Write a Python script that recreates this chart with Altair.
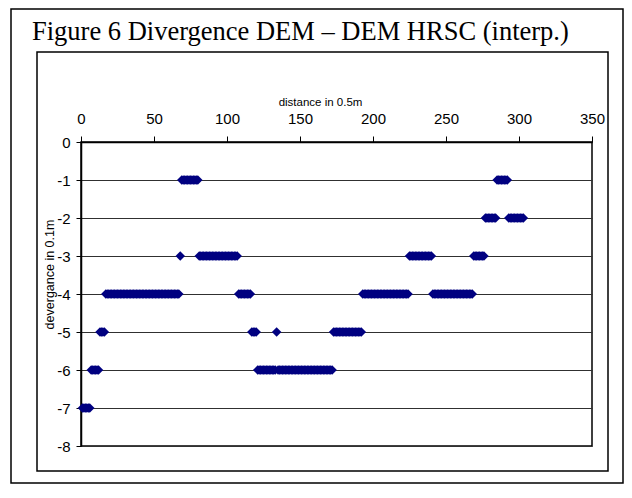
import altair as alt
import pandas as pd

# divergence (in 0.1 m) for each sample, distance index 1, 2, 3, ... (in 0.5 m)
divergence = [
    -7, -7, -7, -7, -7, -7,
    -6, -6, -6, -6, -6, -6,
    -5, -5, -5, -5,
    -4, -4, -4, -4, -4, -4, -4, -4, -4, -4,
    -4, -4, -4, -4, -4, -4, -4, -4, -4, -4,
    -4, -4, -4, -4, -4, -4, -4, -4, -4, -4,
    -4, -4, -4, -4, -4, -4, -4, -4, -4, -4,
    -4, -4, -4, -4, -4, -4, -4, -4, -4, -4,
    -4,
    -3,
    -1, -1, -1, -1, -1, -1, -1, -1, -1, -1,
    -1, -1,
    -3, -3, -3, -3, -3, -3, -3, -3, -3, -3,
    -3, -3, -3, -3, -3, -3, -3, -3, -3, -3,
    -3, -3, -3, -3, -3, -3, -3,
    -4, -4, -4, -4, -4, -4, -4, -4, -4,
    -5, -5, -5, -5,
    -6, -6, -6, -6, -6, -6, -6, -6, -6, -6,
    -6, -6, -6,
    -5,
    -6, -6, -6, -6, -6, -6, -6, -6, -6, -6,
    -6, -6, -6, -6, -6, -6, -6, -6, -6, -6,
    -6, -6, -6, -6, -6, -6, -6, -6, -6, -6,
    -6, -6, -6, -6, -6, -6, -6, -6,
    -5, -5, -5, -5, -5, -5, -5, -5, -5, -5,
    -5, -5, -5, -5, -5, -5, -5, -5, -5, -5,
    -4, -4, -4, -4, -4, -4, -4, -4, -4, -4,
    -4, -4, -4, -4, -4, -4, -4, -4, -4, -4,
    -4, -4, -4, -4, -4, -4, -4, -4, -4, -4,
    -4, -4,
    -3, -3, -3, -3, -3, -3, -3, -3, -3, -3,
    -3, -3, -3, -3, -3, -3,
    -4, -4, -4, -4, -4, -4, -4, -4, -4, -4,
    -4, -4, -4, -4, -4, -4, -4, -4, -4, -4,
    -4, -4, -4, -4, -4, -4, -4, -4,
    -3, -3, -3, -3, -3, -3, -3, -3,
    -2, -2, -2, -2, -2, -2, -2, -2,
    -1, -1, -1, -1, -1, -1, -1, -1,
    -2, -2, -2, -2, -2, -2, -2, -2, -2, -2,
    -2,
]
distance = list(range(1, len(divergence) + 1))

x_ticks = [0, 50, 100, 150, 200, 250, 300, 350]
y_ticks = [0, -1, -2, -3, -4, -5, -6, -7, -8]

fig_title = "Figure 6 Divergence DEM \u2013 DEM HRSC (interp.)"
x_title = "distance in 0.5m"
y_title = "devergance in 0.1m"

df = pd.DataFrame({"distance": distance, "divergence": divergence})
one = pd.DataFrame({"k": [0]})

points = alt.Chart(df).mark_point(
    shape="diamond", filled=True, size=90, color="#000080", opacity=1
).encode(
    x=alt.X(
        "distance:Q",
        scale=alt.Scale(domain=[0, 350], nice=False),
        axis=alt.Axis(
            orient="top",
            values=x_ticks,
            title=x_title,
            titleX=239,
            titleY=-37,
            titleAlign="center",
            titleBaseline="alphabetic",
            titleFontSize=11.5,
            labelBaseline="alphabetic",
            labelPadding=13,
            tickSize=6,
            grid=False,
            labelFlush=False,
        ),
    ),
    y=alt.Y(
        "divergence:Q",
        scale=alt.Scale(domain=[-8, 0], nice=False),
        axis=alt.Axis(
            values=y_ticks,
            title=y_title,
            titleX=-28,
            titleY=132,
            titleAngle=-90,
            titleAlign="center",
            titleBaseline="alphabetic",
            titleFontSize=12.5,
            labelExpr="'' + datum.value",
            labelPadding=6,
            tickSize=5,
            grid=True,
            labelFlush=False,
        ),
    ),
)

title_text = alt.Chart(one).mark_text(
    font="Liberation Serif", fontSize=26.5, align="left", baseline="alphabetic", color="black"
).encode(x=alt.value(-49), y=alt.value(-102), text=alt.value(fig_title))

inner_box = alt.Chart(one).mark_rect(
    fill="transparent", stroke="black", strokeWidth=1.5
).encode(x=alt.value(-44), x2=alt.value(527), y=alt.value(-90), y2=alt.value(329))

outer_box = alt.Chart(one).mark_rect(
    fill="transparent", stroke="black", strokeWidth=1.5
).encode(x=alt.value(-70), x2=alt.value(542), y=alt.value(-133), y2=alt.value(341))

chart = alt.layer(outer_box, inner_box, points, title_text).properties(
    width=511,
    height=304,
    autosize=alt.AutoSizeParams(type="none"),
    padding={"left": 73, "top": 134, "right": 32, "bottom": 38},
).configure_view(
    stroke="black", strokeWidth=1.5
).configure_axis(
    labelFont="Liberation Sans",
    labelFontSize=15,
    labelColor="black",
    titleFont="Liberation Sans",
    titleFontWeight="normal",
    titleColor="black",
    domainColor="black",
    domainWidth=1.5,
    tickColor="black",
    tickWidth=1,
    gridColor="#303030",
    gridWidth=1.2,
    gridOpacity=1,
)

chart.save("out.html", embed_options={"renderer": "svg", "actions": False})
